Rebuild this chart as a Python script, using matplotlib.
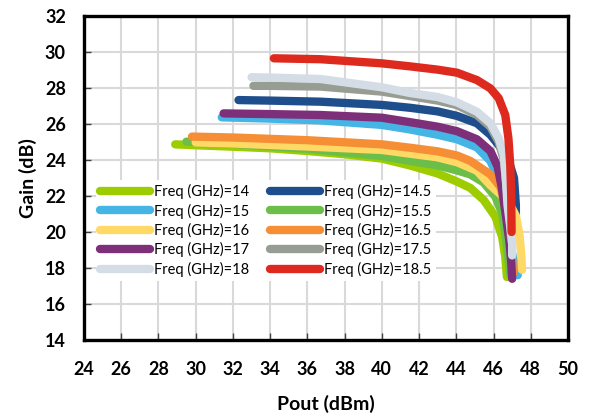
import matplotlib
matplotlib.use("Agg")
import matplotlib.pyplot as plt

plt.rcParams['font.family'] = ['Lato', 'DejaVu Sans']

# gain vs output power, one curve per frequency
freqs = ["14", "14.5", "15", "15.5", "16", "16.5", "17", "17.5", "18", "18.5"]
colors = ["#9DCC00", "#1F4E8C", "#45B5E5", "#6BBF48", "#FFD966",
          "#F68E35", "#7E2F7A", "#979D93", "#D4DDE6", "#DE2A1E"]

pout_14 = [28.9, 30, 32, 34, 36, 38, 40, 41.5, 43, 44.04, 44.75, 45.47, 46.1, 46.46, 46.63, 46.72]
gain_14 = [24.87, 24.82, 24.74, 24.65, 24.5, 24.32, 24.08, 23.7, 23.25, 22.8, 22.45, 21.78, 20.85, 19.74, 18.63, 17.5]

pout_14_5 = [32.3, 34, 36.7, 40, 41.53, 43, 44.04, 45.11, 45.83, 46.3, 46.8, 47.1, 47.2, 47.2]
gain_14_5 = [27.33, 27.3, 27.24, 27.06, 26.9, 26.7, 26.45, 26.04, 25.4, 24.8, 24.0, 23.0, 21.5, 20.5]

pout_15 = [31.4, 34, 36.7, 40, 41.5, 43, 44.04, 45.11, 45.83, 46.16, 46.4, 46.7, 46.95, 47.2, 47.3]
gain_15 = [26.37, 26.3, 26.2, 25.95, 25.7, 25.4, 25.15, 24.7, 23.95, 23.2, 22.1, 20.5, 19.0, 18.0, 17.6]

pout_15_5 = [29.5, 32, 36, 40, 41.53, 43, 44.04, 44.75, 45.47, 46.1, 46.46, 46.65, 46.8, 46.9]
gain_15_5 = [25.02, 24.9, 24.62, 24.22, 23.95, 23.7, 23.42, 23.2, 22.75, 21.96, 21.04, 19.8, 18.5, 17.6]

pout_16 = [30.0, 32, 36, 40, 41.53, 43, 44.04, 45.11, 45.83, 46.37, 46.85, 47.2, 47.4, 47.5, 47.53]
gain_16 = [24.98, 24.92, 24.75, 24.56, 24.35, 24.15, 23.88, 23.4, 22.6, 22.1, 21.6, 20.9, 19.8, 18.6, 17.9]

pout_16_5 = [29.8, 32, 36, 40, 41.53, 43, 44.04, 44.75, 45.83, 46.37, 46.65, 46.85, 47.0, 47.05]
gain_16_5 = [25.3, 25.25, 25.1, 24.87, 24.68, 24.48, 24.25, 23.95, 23.2, 22.5, 21.3, 19.8, 18.5, 17.7]

pout_17 = [31.5, 34, 36.7, 40, 41.53, 43, 44.04, 45.11, 45.83, 46.22, 46.45, 46.65, 46.85, 46.95, 47.0]
gain_17 = [26.59, 26.55, 26.5, 26.35, 26.1, 25.85, 25.6, 25.15, 24.5, 23.63, 22.43, 21.0, 19.5, 18.3, 17.4]

pout_17_5 = [33.1, 34, 36.7, 40, 41.53, 43, 44.04, 45.11, 45.83, 46.28, 46.55, 46.7, 46.85, 46.95]
gain_17_5 = [28.12, 28.12, 28.08, 27.8, 27.55, 27.3, 27.05, 26.5, 25.85, 25.0, 24.0, 22.5, 21.0, 19.5]

pout_18 = [33.0, 34, 36.7, 40, 41.53, 43, 44.04, 45.11, 45.83, 46.28, 46.55, 46.67, 46.75, 46.9, 47.0, 47.0]
gain_18 = [28.6, 28.58, 28.5, 28.04, 27.72, 27.5, 27.2, 26.68, 26.04, 25.2, 24.28, 22.8, 21.5, 20.3, 19.5, 18.7]

pout_18_5 = [34.2, 36.7, 40, 41.53, 43, 44.04, 45.11, 45.83, 46.28, 46.63, 46.8, 46.9, 46.95, 46.97]
gain_18_5 = [29.65, 29.6, 29.37, 29.2, 29.02, 28.85, 28.44, 27.98, 27.43, 26.5, 25.2, 23.7, 22.0, 20.0]

pouts = [pout_14, pout_14_5, pout_15, pout_15_5, pout_16, pout_16_5, pout_17, pout_17_5, pout_18, pout_18_5]
gains = [gain_14, gain_14_5, gain_15, gain_15_5, gain_16, gain_16_5, gain_17, gain_17_5, gain_18, gain_18_5]

x_ticks = list(range(24, 51, 2))
y_ticks = list(range(14, 33, 2))

fig = plt.figure(figsize=(5.9, 4.18), dpi=100)
ax = fig.add_axes([0.1424, 0.1866, 0.8203, 0.7751])

handles = []
for f, c, x, y in zip(freqs, colors, pouts, gains):
    h, = ax.plot(x, y, color=c, linewidth=6, solid_capstyle="round",
                 solid_joinstyle="round", label="Freq (GHz)=" + f)
    handles.append(h)

ax.set_xlim(24, 50)
ax.set_ylim(14, 32)
ax.set_xticks(x_ticks)
ax.set_yticks(y_ticks)
ax.grid(True, color="#D9D9D9", linewidth=1.5)
ax.set_axisbelow(True)

for s in ax.spines.values():
    s.set_linewidth(2.4)
    s.set_color("black")

ax.tick_params(direction="in", length=5, width=1, color="#404040")
ax.tick_params(axis="x", pad=15, labelsize=13)
ax.tick_params(axis="y", pad=13, labelsize=13)
for lab in ax.get_xticklabels() + ax.get_yticklabels():
    lab.set_fontweight("bold")

ax.set_xlabel("Pout (dBm)", fontsize=14, fontweight="bold", labelpad=12)
ax.set_ylabel("Gain (dB)", fontsize=14, fontweight="bold", labelpad=6)

# legend fills column-wise, so reorder to get 14 | 14.5 on the first row
order = [0, 2, 4, 6, 8, 1, 3, 5, 7, 9]
leg = ax.legend([handles[i] for i in order], [handles[i].get_label() for i in order],
                ncol=2, loc="upper left", bbox_to_anchor=(0.025, 0.495),
                fontsize=10.5, handlelength=3.4, handletextpad=0.3,
                columnspacing=1.4, labelspacing=0.3, borderpad=0.3,
                frameon=True, fancybox=False, borderaxespad=0)
leg.get_frame().set_facecolor("white")
leg.get_frame().set_edgecolor("none")
leg.get_frame().set_alpha(1)

fig.savefig("out.png", dpi=100)
